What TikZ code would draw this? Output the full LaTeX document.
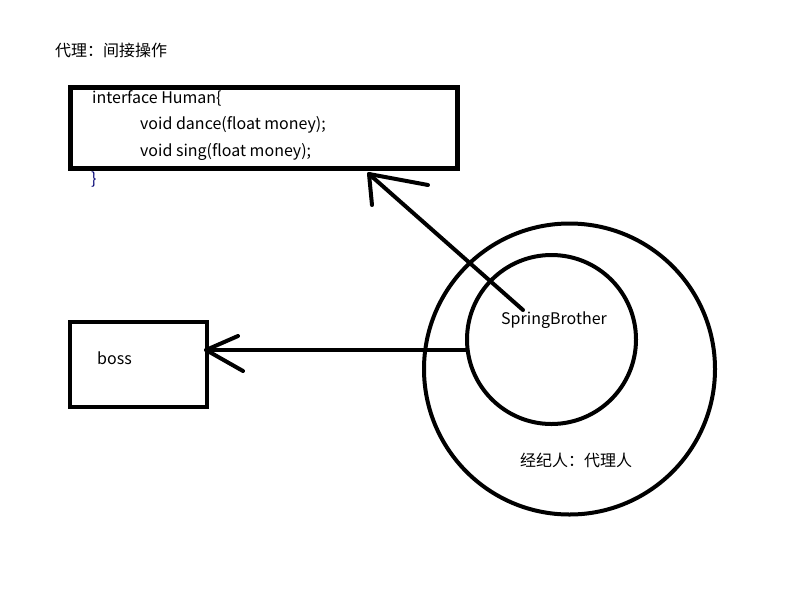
\documentclass[tikz,border=0pt]{standalone}
\usepackage{fontspec}
\setmainfont{Noto Sans CJK SC}
\begin{document}
\begin{tikzpicture}[x=1pt,y=-1pt,
  txt/.style={inner sep=0pt, font=\fontsize{16}{19}\selectfont, anchor=west},
  box/.style={draw=black, line width=4.5pt},
  stroke/.style={draw=black, line width=4pt, line cap=round, line join=round},
  ring/.style={draw=black, line width=4pt}]
\useasboundingbox (0,0) rectangle (800,600);
\fill[white] (0,0) rectangle (800,600);
% title
\node[txt] (title) at (55,50) {代理：间接操作};
% interface box
\draw[box] (70.5,87.5) rectangle (457.5,168.5);
\node[txt] (l1) at (92,98) {interface Human\{};
\node[txt] (l2) at (140,125) {void dance(float money);};
\node[txt] (l3) at (140,152) {void sing(float money);};
\node[txt, text=blue!45!black] (l4) at (91,180) {\}};
% boss box
\draw[box] (70,322) rectangle (207,407);
\node[txt] (boss) at (97,358) {boss};
% circles
\node[ring, circle, minimum size=291pt, inner sep=0pt] (outer) at (569.5,369) {};
\node[ring, circle, minimum size=169pt, inner sep=0pt] (inner) at (551.5,339.5) {};
\node[txt] (sb) at (501,320) {SpringBrother};
\node[txt] (agent) at (520,460) {经纪人：代理人};
% arrow to interface
\coordinate (t1) at (369,174);
\coordinate (s1) at (523,310);
\coordinate (a1) at (428,185);
\coordinate (b1) at (372,205);
\draw[stroke] (s1) -- (t1);
\draw[stroke] (a1) -- (t1) -- (b1);
% arrow to boss
\coordinate (t2) at (206,350);
\coordinate (s2) at (467,350);
\coordinate (a2) at (238,336);
\coordinate (b2) at (243,371);
\draw[stroke] (s2) -- (t2);
\draw[stroke] (a2) -- (t2) -- (b2);
\end{tikzpicture}
\end{document}
